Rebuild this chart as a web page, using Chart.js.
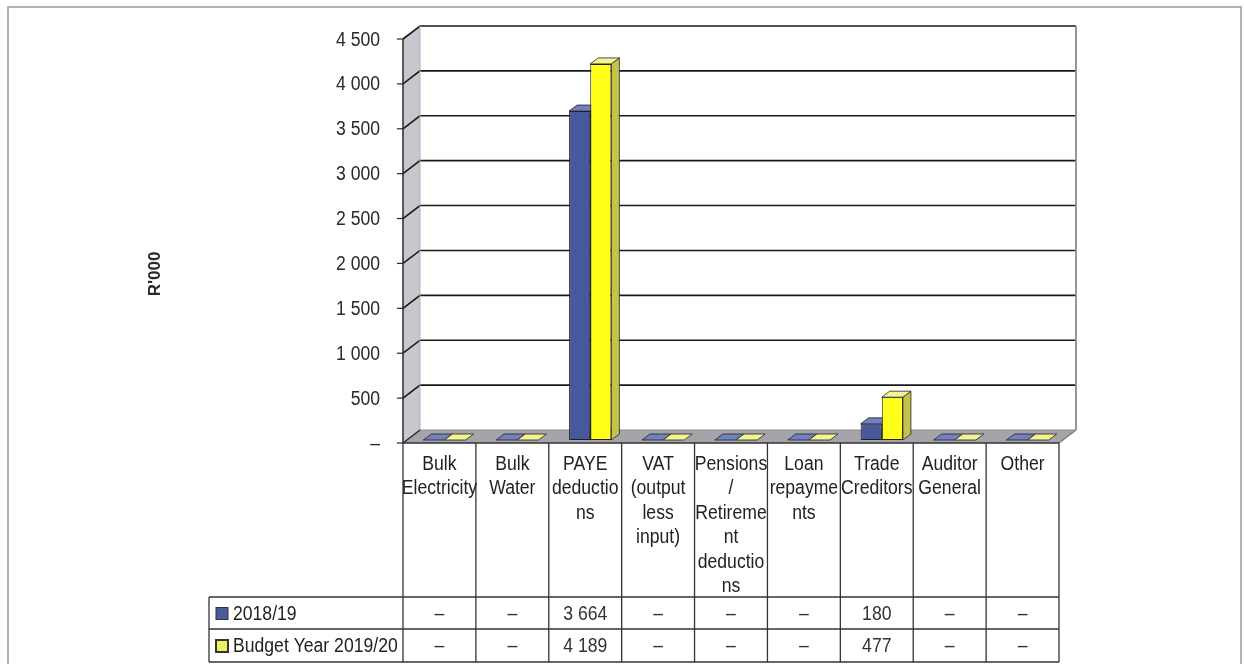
<!DOCTYPE html>
<html>
<head>
<meta charset="utf-8">
<script src="https://cdn.jsdelivr.net/npm/chart.js@4"></script>
<style>
  html, body { margin: 0; padding: 0; background: #fff; }
  #wrap { width: 1244px; height: 664px; }
</style>
</head>
<body>
<div id="wrap"><canvas id="c" width="1244" height="664"></canvas></div>
<script>
// ---------- data ----------
const categories = [
  ["Bulk", "Electricity"],
  ["Bulk", "Water"],
  ["PAYE", "deductio", "ns"],
  ["VAT", "(output", "less", "input)"],
  ["Pensions", "/", "Retireme", "nt", "deductio", "ns"],
  ["Loan", "repayme", "nts"],
  ["Trade", "Creditors"],
  ["Auditor", "General"],
  ["Other"]
];
const seriesNames = ["2018/19", "Budget Year 2019/20"];
const values2018 = [0, 0, 3664, 0, 0, 0, 180, 0, 0];
const valuesBudget = [0, 0, 4189, 0, 0, 0, 477, 0, 0];
const yTickLabels = ["–", "500", "1 000", "1 500", "2 000", "2 500", "3 000", "3 500", "4 000", "4 500"];
const yAxisTitle = "R'000";

// ---------- styling ----------
const FONT = '"Liberation Sans", Arial, sans-serif';
const SX = 0.88;                 // horizontal text compression
const WALL = { dx: 17, dy: -13 };  // depth of back wall
const BAR_OFF = { dx: 5, dy: -3 }; // bar front plane offset
const BAR_DEPTH = { dx: 8, dy: -6 };
const faceColors = [
  { front: '#48589c', top: '#7280c0', side: '#2e3b74', legend: '#4a5a9c' },
  { front: '#ffff1a', top: '#f4f490', side: '#c4c44a', legend: '#f0f060' }
];

function fmt(v) {
  if (v === 0) return "–";
  return String(v).replace(/\B(?=(\d{3})+(?!\d))/g, " ");
}
function text(ctx, s, x, y, align, font, color, sx) {
  ctx.save();
  ctx.translate(x, y);
  ctx.scale(sx === undefined ? SX : sx, 1);
  ctx.font = font;
  ctx.fillStyle = color || '#1e1e1e';
  ctx.textAlign = align;
  ctx.textBaseline = 'middle';
  ctx.fillText(s, 0, 0);
  ctx.restore();
}
function poly(ctx, pts, fill, stroke, lw) {
  ctx.beginPath();
  ctx.moveTo(pts[0][0], pts[0][1]);
  for (let i = 1; i < pts.length; i++) ctx.lineTo(pts[i][0], pts[i][1]);
  ctx.closePath();
  if (fill) { ctx.fillStyle = fill; ctx.fill(); }
  if (stroke) { ctx.strokeStyle = stroke; ctx.lineWidth = lw || 1; ctx.stroke(); }
}

const backdrop = {
  id: 'backdrop',
  beforeDraw(chart) {
    const ctx = chart.ctx;
    const a = chart.chartArea;
    const ys = chart.scales.y, xs = chart.scales.x;
    ctx.save();
    ctx.fillStyle = '#fff';
    ctx.fillRect(0, 0, chart.width, chart.height);
    // outer frame
    ctx.strokeStyle = '#9a9a9a'; ctx.lineWidth = 1.5;
    ctx.strokeRect(8, 7, 1233, 720);

    const L = a.left, R = a.right, T = a.top, B = a.bottom;
    const bL = L + WALL.dx, bR = R + WALL.dx, bT = T + WALL.dy, bB = B + WALL.dy;
    // left side wall
    poly(ctx, [[L, T], [bL, bT], [bL, bB], [L, B]], '#c9c6cf');
    // back wall
    ctx.fillStyle = '#ffffff';
    ctx.fillRect(bL, bT, bR - bL, bB - bT);
    // floor
    poly(ctx, [[L, B], [bL, bB], [bR, bB], [R, B]], '#a5a4ab');
    // floor edges
    ctx.strokeStyle = '#8a8a90'; ctx.lineWidth = 1;
    ctx.beginPath(); ctx.moveTo(bL, bB); ctx.lineTo(bR, bB); ctx.stroke();
    ctx.strokeStyle = '#777'; ctx.lineWidth = 1.2;
    ctx.beginPath(); ctx.moveTo(R, B); ctx.lineTo(bR, bB); ctx.stroke();

    // gridlines on back wall + left wall diagonals
    ys.ticks.forEach((t) => {
      if (t.value === 0) return;
      const y = ys.getPixelForValue(t.value);
      ctx.strokeStyle = '#1a1a1a'; ctx.lineWidth = 1.6;
      ctx.beginPath();
      ctx.moveTo(L, y); ctx.lineTo(bL, y + WALL.dy); ctx.lineTo(bR, y + WALL.dy);
      ctx.stroke();
    });
    // right edge of back wall
    ctx.strokeStyle = '#8c8c8c'; ctx.lineWidth = 1.8;
    ctx.beginPath(); ctx.moveTo(bR, bT); ctx.lineTo(bR, bB); ctx.stroke();
    // left wall back edge
    ctx.strokeStyle = '#b0aeb6'; ctx.lineWidth = 1;
    ctx.beginPath(); ctx.moveTo(bL, bT); ctx.lineTo(bL, bB); ctx.stroke();

    // front axis line & ticks
    ctx.strokeStyle = '#2a2a2a'; ctx.lineWidth = 1.5;
    ctx.beginPath(); ctx.moveTo(L, T); ctx.lineTo(L, B); ctx.stroke();
    ctx.beginPath(); ctx.moveTo(L, B); ctx.lineTo(bL, bB); ctx.stroke();
    ys.ticks.forEach((t, i) => {
      const y = ys.getPixelForValue(t.value);
      ctx.strokeStyle = '#2a2a2a'; ctx.lineWidth = 1.2;
      ctx.beginPath(); ctx.moveTo(L - 6, y); ctx.lineTo(L, y); ctx.stroke();
      const lbl = yTickLabels[i] !== undefined ? yTickLabels[i] : fmt(t.value);
      text(ctx, lbl, L - 23, y + 1, 'right', '20px ' + FONT, '#2a2a2a');
    });

    // y axis title
    ctx.save();
    ctx.translate(155, 274);
    ctx.rotate(-Math.PI / 2);
    ctx.font = 'bold 17px ' + FONT;
    ctx.fillStyle = '#2a2a2a';
    ctx.textAlign = 'center'; ctx.textBaseline = 'middle';
    ctx.fillText(yAxisTitle, 0, 0);
    ctx.restore();

    // ---------- data table ----------
    const n = categories.length;
    const cw = (R - L) / n;
    const hdrBottom = 597, row1Bottom = 629, row2Bottom = 662, legL = 209;
    ctx.strokeStyle = '#333'; ctx.lineWidth = 1.3;
    // front floor edge (table top)
    ctx.beginPath(); ctx.moveTo(L, B); ctx.lineTo(R, B); ctx.stroke();
    for (let i = 0; i <= n; i++) {
      const x = L + i * cw;
      ctx.beginPath(); ctx.moveTo(x, B); ctx.lineTo(x, row2Bottom); ctx.stroke();
    }
    [hdrBottom, row1Bottom, row2Bottom].forEach((y) => {
      ctx.beginPath(); ctx.moveTo(legL, y); ctx.lineTo(R, y); ctx.stroke();
    });
    ctx.beginPath(); ctx.moveTo(legL, hdrBottom); ctx.lineTo(legL, row2Bottom); ctx.stroke();

    // header labels
    categories.forEach((lines, i) => {
      const cx = xs.getPixelForValue(i);
      lines.forEach((ln, j) => {
        text(ctx, ln, cx, 464 + j * 24.5, 'center', '20px ' + FONT, '#222');
      });
    });
    // rows
    const rows = [values2018, valuesBudget];
    const rowY = [(hdrBottom + row1Bottom) / 2 + 1, (row1Bottom + row2Bottom) / 2 + 1];
    rows.forEach((vals, r) => {
      // legend key
      ctx.fillStyle = faceColors[r].legend;
      ctx.fillRect(216, rowY[r] - 6.5, 12, 12);
      ctx.strokeStyle = '#333'; ctx.lineWidth = r === 1 ? 2 : 1;
      ctx.strokeRect(216, rowY[r] - 6.5, 12, 12);
      text(ctx, seriesNames[r], 233, rowY[r], 'left', '20px ' + FONT, '#222');
      vals.forEach((v, i) => {
        const cx = xs.getPixelForValue(i);
        text(ctx, fmt(v), cx, rowY[r], 'center', '20px ' + FONT, '#333');
      });
    });
    ctx.restore();
  },
  beforeDatasetsDraw(chart) {
    const ctx = chart.ctx;
    ctx.save();
    ctx.translate(BAR_OFF.dx, BAR_OFF.dy);
    // side and top faces, computed from the bar elements laid out by Chart.js
    chart.data.datasets.forEach((ds, di) => {
      const meta = chart.getDatasetMeta(di);
      const c = faceColors[di];
      meta.data.forEach((bar) => {
        const p = bar.getProps(['x', 'y', 'base', 'width'], true);
        const x0 = p.x - p.width / 2, x1 = p.x + p.width / 2;
        const top = Math.min(p.y, p.base), base = Math.max(p.y, p.base);
        const dx = BAR_DEPTH.dx, dy = BAR_DEPTH.dy;
        if (base - top > 0.5) {
          poly(ctx, [[x1, top], [x1 + dx, top + dy], [x1 + dx, base + dy], [x1, base]], c.side, '#222', 0.8);
        }
        poly(ctx, [[x0, top], [x0 + dx, top + dy], [x1 + dx, top + dy], [x1, top]], c.top, '#222', 0.8);
      });
    });
  },
  afterDatasetsDraw(chart) {
    chart.ctx.restore();
  }
};

new Chart(document.getElementById('c'), {
  type: 'bar',
  data: {
    labels: categories,
    datasets: [
      { label: seriesNames[0], data: values2018, backgroundColor: faceColors[0].front,
        borderColor: '#222', borderWidth: 1, borderSkipped: false, clip: false },
      { label: seriesNames[1], data: valuesBudget, backgroundColor: faceColors[1].front,
        borderColor: '#222', borderWidth: 1, borderSkipped: false, clip: false }
    ]
  },
  options: {
    responsive: false,
    animation: false,
    events: [],
    layout: { padding: { left: 403, right: 185, top: 39, bottom: 221 } },
    datasets: { bar: { categoryPercentage: 0.58, barPercentage: 1.0 } },
    plugins: { legend: { display: false }, tooltip: { enabled: false }, title: { display: false } },
    scales: {
      x: { type: 'category', display: false, offset: true },
      y: { display: false, min: 0, max: 4500, ticks: { stepSize: 500 } }
    }
  },
  plugins: [backdrop]
});
</script>
</body>
</html>
